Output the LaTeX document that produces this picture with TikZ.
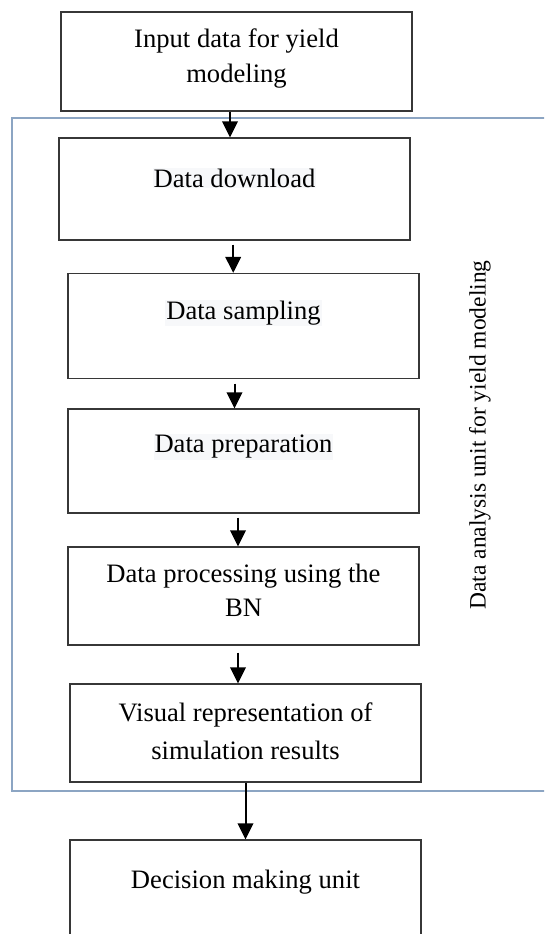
\documentclass[tikz,border=0pt]{standalone}
\usepackage{fontspec}
\setmainfont{Liberation Serif}
\usetikzlibrary{arrows.meta,calc}
\definecolor{framblue}{RGB}{140,165,195}
\definecolor{boxgray}{RGB}{55,55,55}
\definecolor{hl}{RGB}{247,248,250}
\begin{document}
\begin{tikzpicture}[x=1pt,y=-1pt,
  stepbox/.style={draw=boxgray,line width=1.2pt,rectangle,inner sep=0pt,minimum width=351pt},
  lbl/.style={font=\fontsize{26.6}{36}\selectfont,align=center,inner sep=1pt},
  hlbl/.style={lbl,fill=hl},
  arr/.style={line width=2pt,-{Triangle[width=15.5pt,length=16pt]}}]
\clip (0,0) rectangle (544,934);
\useasboundingbox (0,0) rectangle (544,934);
% frame of the data analysis unit
\draw[framblue,line width=1.5pt] (560,118) -| (12,791) -- (560,791);
% boxes
\node[stepbox,minimum height=99pt]  (b1) at (236.5,61.5) {};
\node[stepbox,minimum height=102pt] (b2) at (234.5,189) {};
\node[stepbox,minimum height=105pt] (b3) at (243.5,326) {};
\node[stepbox,minimum height=104pt] (b4) at (243.5,461) {};
\node[stepbox,minimum height=98pt]  (b5) at (243.5,596) {};
\node[stepbox,minimum height=98pt]  (b6) at (245.5,733) {};
\node[stepbox,minimum height=160pt] (b7) at (245.5,920) {};
% labels
\node[lbl,font=\fontsize{26.6}{35}\selectfont] (t1) at (236.5,59) {Input data for yield\\modeling};
\node[hlbl] (t2) at (234.5,178) {Data download};
\node[hlbl] (t3) at (243.5,313) {Data sampling};
\node[hlbl] (t4) at (243.5,447) {Data preparation};
\node[lbl,font=\fontsize{26.6}{34}\selectfont] (t5) at (243.5,590) {Data processing using the\\BN};
\node[lbl,font=\fontsize{26.6}{38}\selectfont] (t6) at (245.5,731) {Visual representation of\\simulation results};
\node[lbl] (t7) at (245.5,882) {Decision making unit};
\node[font=\fontsize{23.5}{28}\selectfont,rotate=90,inner sep=0pt] (side) at (480,435) {Data analysis unit for yield modeling};
% arrows
\draw[arr] ([xshift=-6.5pt]b1.south) -- ([xshift=-6.5pt]b1.south |- b2.north);
\draw[arr,shorten <=4pt] ([xshift=-1.3pt]b2.south) -- ([xshift=-1.3pt]b2.south |- b3.north);
\draw[arr,shorten <=4.5pt] ([xshift=-9pt]b3.south) -- ([xshift=-9pt]b3.south |- b4.north);
\draw[arr,shorten <=4pt] ([xshift=-5.5pt]b4.south) -- ([xshift=-5.5pt]b4.south |- b5.north);
\draw[arr,shorten <=7pt] ([xshift=-5.5pt]b5.south) -- ([xshift=-5.5pt]b5.south |- b6.north);
\draw[arr] (b6.south) -- (b6.south |- b7.north);
\end{tikzpicture}
\end{document}
